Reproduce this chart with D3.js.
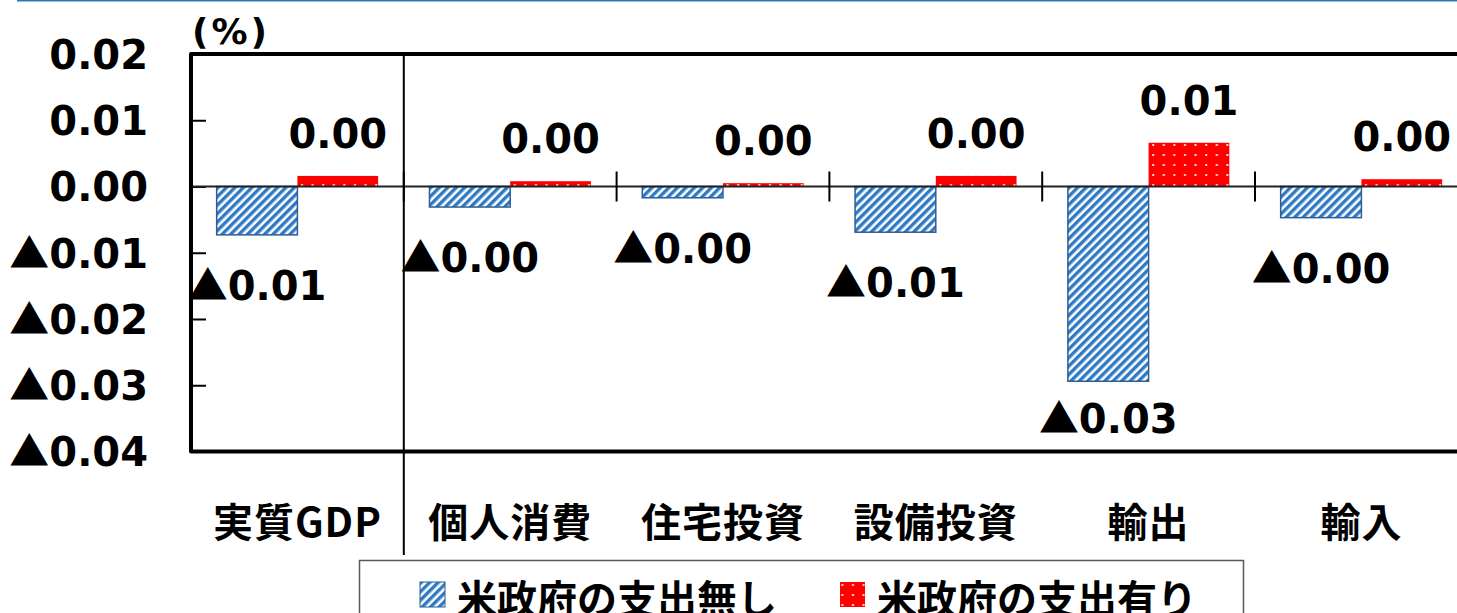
<!DOCTYPE html>
<html>
<head>
<meta charset="utf-8">
<script src="https://cdn.jsdelivr.net/npm/d3@7"></script>
<style>
  html, body { margin: 0; padding: 0; background: #fff; overflow: hidden; }
  svg { display: block; }
  .num { font-family: "DejaVu Sans", sans-serif; font-weight: bold; }
  .jp { font-family: "Noto Sans CJK JP", sans-serif; font-weight: bold; }
</style>
</head>
<body>
<div id="chart"></div>
<script>
// categories and series
const categories = ['実質GDP', '個人消費', '住宅投資', '設備投資', '輸出', '輸入'];
const seriesNames = ['米政府の支出無し', '米政府の支出有り'];
const noSpending = [-0.0073, -0.0031, -0.0017, -0.0069, -0.0294, -0.0047];
const withSpending = [0.0016, 0.0008, 0.0005, 0.0016, 0.0066, 0.0011];
const yTicks = [0.02, 0.01, 0, -0.01, -0.02, -0.03, -0.04];

const W = 1457, H = 613;
const plotLeft = 191, plotTop = 54, plotBottom = 451.5;
const step = 212.8;

const absText = v => Math.abs(v).toFixed(2);

// number with a CJK triangle for negatives
function writeValue(sel, v) {
  sel.text('');
  if (v < 0) {
    sel.append('tspan')
      .attr('font-family', '"Noto Sans CJK JP", sans-serif')
      .text('▲');
  }
  sel.append('tspan').text(absText(v));
}

const svg = d3.select('#chart').append('svg')
  .attr('width', W)
  .attr('height', H);

const defs = svg.append('defs');

// blue diagonal stripes
const stripes = defs.append('pattern')
  .attr('id', 'stripes')
  .attr('patternUnits', 'userSpaceOnUse')
  .attr('width', 6).attr('height', 6)
  .attr('patternTransform', 'rotate(45)');
stripes.append('rect').attr('width', 6).attr('height', 6).attr('fill', '#ffffff');
stripes.append('rect').attr('width', 3.4).attr('height', 6).attr('fill', '#2e7ac4');

// red with white dots
const dots = defs.append('pattern')
  .attr('id', 'dots')
  .attr('patternUnits', 'userSpaceOnUse')
  .attr('width', 10.6).attr('height', 10);
dots.append('rect').attr('width', 10.6).attr('height', 10).attr('fill', '#ff0000');
dots.append('rect').attr('x', 4).attr('y', 4).attr('width', 2).attr('height', 2).attr('fill', '#ffd6d6');

const x0 = d3.scaleBand()
  .domain(categories)
  .range([plotLeft, plotLeft + step * categories.length]);

const x1 = d3.scaleBand()
  .domain(seriesNames)
  .range([0, x0.bandwidth()])
  .paddingOuter(0.318);

const y = d3.scaleLinear()
  .domain([-0.04, 0.02])
  .range([plotBottom, plotTop]);

// thin blue line at the very top
svg.append('line')
  .attr('x1', 17).attr('x2', W)
  .attr('y1', 0.5).attr('y2', 0.5)
  .attr('stroke', '#2e75b6')
  .attr('stroke-width', 2);

// unit
svg.append('text')
  .attr('class', 'num')
  .attr('x', 192).attr('y', 44)
  .attr('font-size', 36)
  .attr('letter-spacing', 3)
  .text('(%)');

// y axis
const yAxis = svg.append('g')
  .attr('transform', `translate(${plotLeft},0)`)
  .call(d3.axisLeft(y)
    .tickValues(yTicks)
    .tickSizeInner(-15)
    .tickSizeOuter(0)
    .tickPadding(43));
yAxis.select('.domain').remove();
yAxis.selectAll('.tick line').attr('stroke', '#000').attr('stroke-width', 2);
yAxis.selectAll('.tick text')
  .attr('class', 'num')
  .attr('font-size', 40)
  .attr('fill', '#000')
  .attr('dy', '0.36em')
  .each(function (d) { writeValue(d3.select(this), d); });

// bars
const rows = categories.map((c, i) => ({ cat: c, vals: [noSpending[i], withSpending[i]] }));
const groups = svg.append('g').selectAll('g')
  .data(rows)
  .join('g')
  .attr('transform', d => `translate(${x0(d.cat)},0)`);

groups.selectAll('rect')
  .data(d => d.vals.map((v, j) => ({ v, s: seriesNames[j] })))
  .join('rect')
  .attr('x', d => x1(d.s))
  .attr('width', x1.bandwidth())
  .attr('y', d => y(Math.max(0, d.v)))
  .attr('height', d => Math.abs(y(d.v) - y(0)))
  .attr('fill', d => d.s === seriesNames[0] ? 'url(#stripes)' : 'url(#dots)')
  .attr('stroke', d => d.s === seriesNames[0] ? '#2f5d95' : 'none')
  .attr('stroke-width', 1.5);

// zero line
svg.append('line')
  .attr('x1', plotLeft).attr('x2', W)
  .attr('y1', y(0)).attr('y2', y(0))
  .attr('stroke', '#222')
  .attr('stroke-width', 2);

// category separator ticks on the zero line
svg.append('g').selectAll('line')
  .data(categories.slice(1))
  .join('line')
  .attr('x1', d => x0(d)).attr('x2', d => x0(d))
  .attr('y1', y(0) - 15).attr('y2', y(0) + 15)
  .attr('stroke', '#000')
  .attr('stroke-width', 2);

// full-height line after GDP
svg.append('line')
  .attr('x1', x0(categories[1])).attr('x2', x0(categories[1]))
  .attr('y1', plotTop).attr('y2', 555)
  .attr('stroke', '#000')
  .attr('stroke-width', 2);

// frame
svg.append('path')
  .attr('d', `M${W},${plotTop}H${plotLeft}V${plotBottom}H${W}`)
  .attr('fill', 'none')
  .attr('stroke', '#000')
  .attr('stroke-width', 4)
  .attr('stroke-linejoin', 'round');

// data labels
groups.each(function (d) {
  const g = d3.select(this);
  const [blue, red] = d.vals;
  g.append('text')
    .attr('class', 'num')
    .attr('font-size', 40)
    .attr('text-anchor', 'middle')
    .attr('x', x1(seriesNames[0]) + x1.bandwidth() / 2)
    .attr('y', Math.min(y(blue) + 65, plotBottom - 19))
    .call(writeValue, blue);
  g.append('text')
    .attr('class', 'num')
    .attr('font-size', 40)
    .attr('text-anchor', 'middle')
    .attr('x', x1(seriesNames[1]) + x1.bandwidth() / 2)
    .attr('y', y(red) - 28)
    .call(writeValue, red);
});

// category labels
svg.append('g').selectAll('text')
  .data(categories)
  .join('text')
  .attr('class', 'jp')
  .attr('font-size', 40)
  .attr('letter-spacing', 1)
  .attr('text-anchor', 'middle')
  .attr('x', d => x0(d) + x0.bandwidth() / 2)
  .attr('y', 520)
  .attr('dominant-baseline', 'central')
  .text(d => d);

// legend
const legend = svg.append('g');
legend.append('rect')
  .attr('x', 359.5).attr('y', 560.5)
  .attr('width', 884).attr('height', 70)
  .attr('fill', '#fff')
  .attr('stroke', '#595959')
  .attr('stroke-width', 1.5);

const legendItems = [
  { name: seriesNames[0], fill: 'url(#stripes)', stroke: '#2f5d95', x: 420 },
  { name: seriesNames[1], fill: 'url(#dots)', stroke: 'none', x: 840 }
];
legendItems.forEach(it => {
  legend.append('rect')
    .attr('x', it.x).attr('y', 582)
    .attr('width', 25).attr('height', 25)
    .attr('fill', it.fill)
    .attr('stroke', it.stroke);
  legend.append('text')
    .attr('class', 'jp')
    .attr('font-size', 40)
    .attr('x', it.x + 37)
    .attr('y', 597)
    .attr('dominant-baseline', 'central')
    .text(it.name);
});
</script>
</body>
</html>
